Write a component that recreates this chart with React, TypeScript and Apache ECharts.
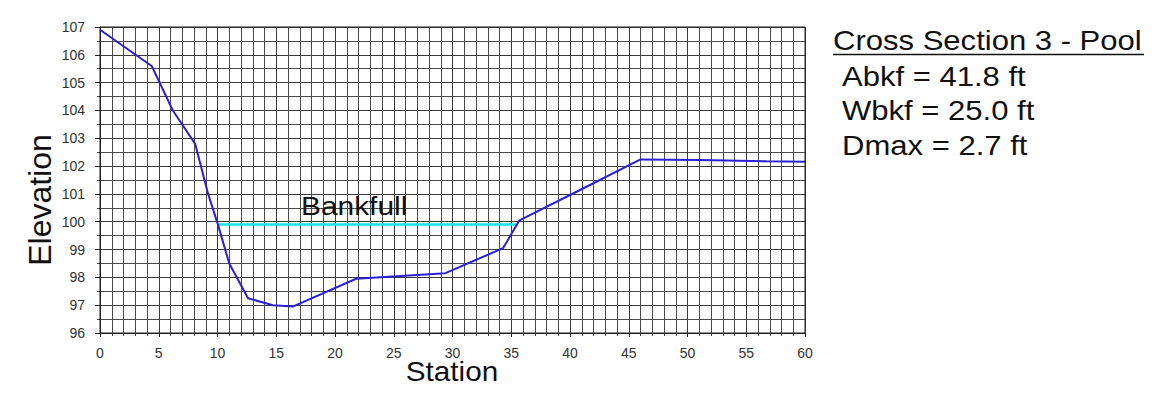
import React, { useEffect, useRef } from "react";
import * as echarts from "echarts";

const stations = [0, 4.4, 6.2, 8.1, 9.2, 10.0, 11.0, 12.6, 14.7, 16.4, 21.8, 29.4, 34.3, 35.7, 40.9, 46.0, 51.1, 56.7, 60];
const elevations = [106.9, 105.6, 104.0, 102.8, 101.0, 99.95, 98.5, 97.25, 97.0, 96.95, 97.95, 98.15, 99.05, 100.05, 101.15, 102.24, 102.22, 102.17, 102.16];
const bankfullStations = [10.0, 35.4];
const bankfullElevation = 99.9;
const infoLines = ["Abkf = 41.8 ft", "Wbkf = 25.0 ft", "Dmax = 2.7 ft"];
const titleText = "Cross Section 3 - Pool";

export default function App() {
  const ref = useRef<HTMLDivElement>(null);
  useEffect(() => {
    if (!ref.current) return;
    const chart = echarts.init(ref.current, null, { renderer: "svg" });
    const font = "'Liberation Sans', Arial, sans-serif";
    chart.setOption({
      animation: false,
      backgroundColor: "#ffffff",
      grid: { left: 100, right: 356, top: 27, bottom: 69 },
      xAxis: {
        type: "value",
        min: 0,
        max: 60,
        interval: 5,
        axisLine: { show: true, lineStyle: { color: "#222", width: 1 } },
        axisTick: { show: true, length: 4, lineStyle: { color: "#222" } },
        axisLabel: { fontFamily: font, fontSize: 14, color: "#333", margin: 13 },
        splitLine: { show: true, lineStyle: { color: "#3a3a3a", width: 1 } },
        minorTick: { show: true, splitNumber: 5, length: 3, lineStyle: { color: "#444" } },
        minorSplitLine: { show: true, lineStyle: { color: "#4a4a4a", width: 1 } },
      },
      yAxis: {
        type: "value",
        min: 96,
        max: 107,
        interval: 1,
        axisLine: { show: true, lineStyle: { color: "#222", width: 1 } },
        axisTick: { show: true, length: 5, lineStyle: { color: "#222" } },
        axisLabel: { fontFamily: font, fontSize: 14, color: "#333", margin: 15 },
        splitLine: { show: true, lineStyle: { color: "#3a3a3a", width: 1 } },
        minorTick: { show: true, splitNumber: 2, length: 3, lineStyle: { color: "#444" } },
        minorSplitLine: { show: true, lineStyle: { color: "#4a4a4a", width: 1 } },
      },
      series: [
        {
          type: "line",
          data: bankfullStations.map((s) => [s, bankfullElevation]),
          symbol: "none",
          lineStyle: { color: "#19e3ea", width: 2.5 },
          z: 3,
        },
        {
          type: "line",
          data: stations.map((s, i) => [s, elevations[i]]),
          symbol: "none",
          lineStyle: { color: "#2b1fd6", width: 2 },
          z: 4,
        },
      ],
      graphic: [
        {
          type: "rect",
          shape: { x: 100, y: 27, width: 705, height: 306 },
          style: { fill: "none", stroke: "#222", lineWidth: 1 },
          z: 10,
        },
        {
          type: "text",
          x: 301,
          y: 193,
          scaleX: 1.15,
          style: { text: "Bankfull", font: `26px ${font}`, fill: "#111" },
          z: 10,
        },
        {
          type: "text",
          x: 452,
          y: 358,
          scaleX: 1.1,
          style: { text: "Station", font: `27px ${font}`, fill: "#111", align: "center" },
          z: 10,
        },
        {
          type: "text",
          x: 24,
          y: 200,
          rotation: Math.PI / 2,
          style: { text: "Elevation", font: `32px ${font}`, fill: "#111", align: "center", verticalAlign: "top" },
          z: 10,
        },
        {
          type: "text",
          x: 833,
          y: 27,
          scaleX: 1.15,
          style: { text: titleText, font: `27px ${font}`, fill: "#111" },
          z: 10,
        },
        {
          type: "line",
          shape: { x1: 833, y1: 54.5, x2: 1144, y2: 54.5 },
          style: { stroke: "#111", lineWidth: 1.5 },
          z: 10,
        },
        ...infoLines.map((t, i) => ({
          type: "text",
          x: 842,
          y: 63 + i * 34.5,
          scaleX: 1.15,
          style: { text: t, font: `27px ${font}`, fill: "#111" },
          z: 10,
        })),
      ],
    });
    return () => chart.dispose();
  }, []);
  return <div ref={ref} style={{ width: 1161, height: 402, margin: -8 }} />;
}
